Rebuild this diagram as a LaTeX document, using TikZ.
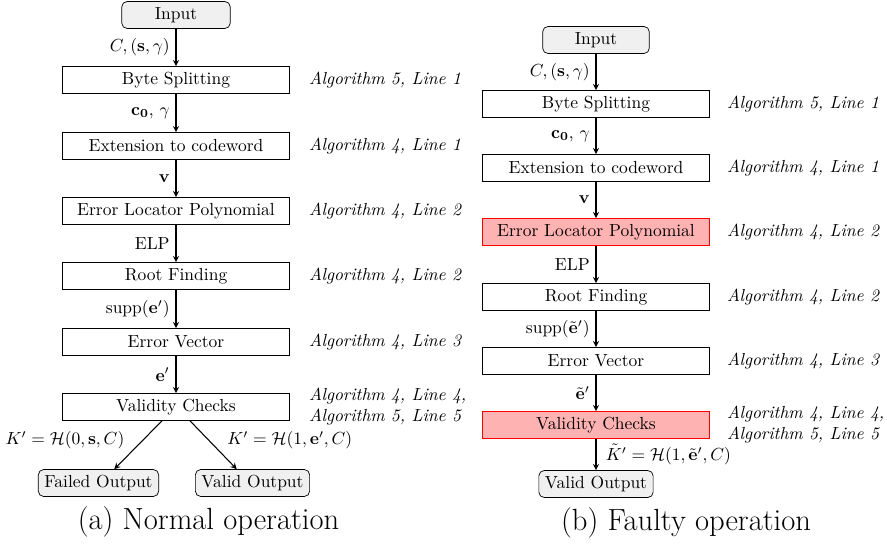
\documentclass[tikz,border=0pt]{standalone}
\usepackage{amsmath,amssymb}
\tikzset{
  proc/.style={draw, thin, minimum width=130pt, minimum height=15.4pt, inner sep=2pt},
  fault/.style={proc, draw=red, fill=red!30},
  term/.style={draw, thin, rounded corners=3pt, fill=gray!12, minimum height=15.4pt, inner xsep=3.5pt, inner ysep=2pt},
  algo/.style={anchor=west, font=\itshape, align=left},
  flow/.style={-stealth, semithick}
}
\begin{document}
\begin{tikzpicture}[x=0.572pt, y=-0.572pt]
        \useasboundingbox (0,0) rectangle (887,544);
        % normal operation
        \node[term, minimum width=62pt] (inA) at (176,15) {Input};
        \node[proc] (splitA) at (176,80) {Byte Splitting};
        \node[proc] (extA) at (176,146) {Extension to codeword};
        \node[proc] (elpA) at (176,211) {Error Locator Polynomial};
        \node[proc] (rootA) at (176,276) {Root Finding};
        \node[proc] (errA) at (176,342) {Error Vector};
        \node[proc] (chkA) at (176,407) {Validity Checks};
        \node[term] (failA) at (98.5,483) {Failed Output};
        \node[term] (okA) at (252.5,483) {Valid Output};
        \node[algo] (algA1) at (303,80) {Algorithm 5, Line 1};
        \node[algo] (algA2) at (303,146) {Algorithm 4, Line 1};
        \node[algo] (algA3) at (303,211) {Algorithm 4, Line 2};
        \node[algo] (algA4) at (303,276) {Algorithm 4, Line 2};
        \node[algo] (algA5) at (303,342) {Algorithm 4, Line 3};
        \node[algo] (algA6) at (303,407) {Algorithm 4, Line 4,\\Algorithm 5, Line 5};
        \draw[flow] (inA) -- (splitA) node[midway, left]{$C, (\mathbf{s}, \gamma)$};
        \draw[flow] (splitA) -- (extA) node[midway, left]{$\mathbf{c_0}$, $\gamma$};
        \draw[flow] (extA) -- (elpA) node[midway, left]{$\mathbf{v}$};
        \draw[flow] (elpA) -- (rootA) node[midway, left]{ELP};
        \draw[flow] (rootA) -- (errA) node[midway, left]{supp$(\mathbf{e}')$};
        \draw[flow] (errA) -- (chkA) node[midway, left]{$\mathbf{e}'$};
        \draw[flow] ([xshift=-8pt]chkA.south) -- ([xshift=9pt]failA.north) node[pos=0.4, left=7pt]{$K' = \mathcal{H}(0, \mathbf{s}, C)$};
        \draw[flow] ([xshift=8pt]chkA.south) -- ([xshift=-9pt]okA.north) node[pos=0.4, right=7pt]{$K' = \mathcal{H}(1, \mathbf{e}', C)$};
        \node (capA) at (208.5,521.5) {\fontsize{17.5}{21}\selectfont (a) Normal operation};
        % faulty operation
        \node[term, minimum width=61pt] (inB) at (596,40) {Input};
        \node[proc] (splitB) at (596,104) {Byte Splitting};
        \node[proc] (extB) at (596,168) {Extension to codeword};
        \node[fault] (elpB) at (596,232) {Error Locator Polynomial};
        \node[proc] (rootB) at (596,297) {Root Finding};
        \node[proc] (errB) at (596,361) {Error Vector};
        \node[fault] (chkB) at (596,425) {Validity Checks};
        \node[term] (okB) at (596,484) {Valid Output};
        \node[algo] (algB1) at (721,104) {Algorithm 5, Line 1};
        \node[algo] (algB2) at (721,168) {Algorithm 4, Line 1};
        \node[algo] (algB3) at (721,232) {Algorithm 4, Line 2};
        \node[algo] (algB4) at (721,297) {Algorithm 4, Line 2};
        \node[algo] (algB5) at (721,361) {Algorithm 4, Line 3};
        \node[algo] (algB6) at (721,425) {Algorithm 4, Line 4,\\Algorithm 5, Line 5};
        \draw[flow] (inB) -- (splitB) node[midway, left]{$C, (\mathbf{s}, \gamma)$};
        \draw[flow] (splitB) -- (extB) node[midway, left]{$\mathbf{c_0}$, $\gamma$};
        \draw[flow] (extB) -- (elpB) node[midway, left]{$\mathbf{v}$};
        \draw[flow] (elpB) -- (rootB) node[midway, left]{ELP};
        \draw[flow] (rootB) -- (errB) node[midway, left]{supp$(\tilde{\mathbf{e}}')$};
        \draw[flow] (errB) -- (chkB) node[midway, left]{$\tilde{\mathbf{e}}'$};
        \draw[flow] (chkB) -- (okB) node[midway, right=2pt]{$\tilde{K}' = \mathcal{H}(1, \tilde{\mathbf{e}}', C)$};
        \node (capB) at (686,523) {\fontsize{17.5}{21}\selectfont (b) Faulty operation};
\end{tikzpicture}
\end{document}
